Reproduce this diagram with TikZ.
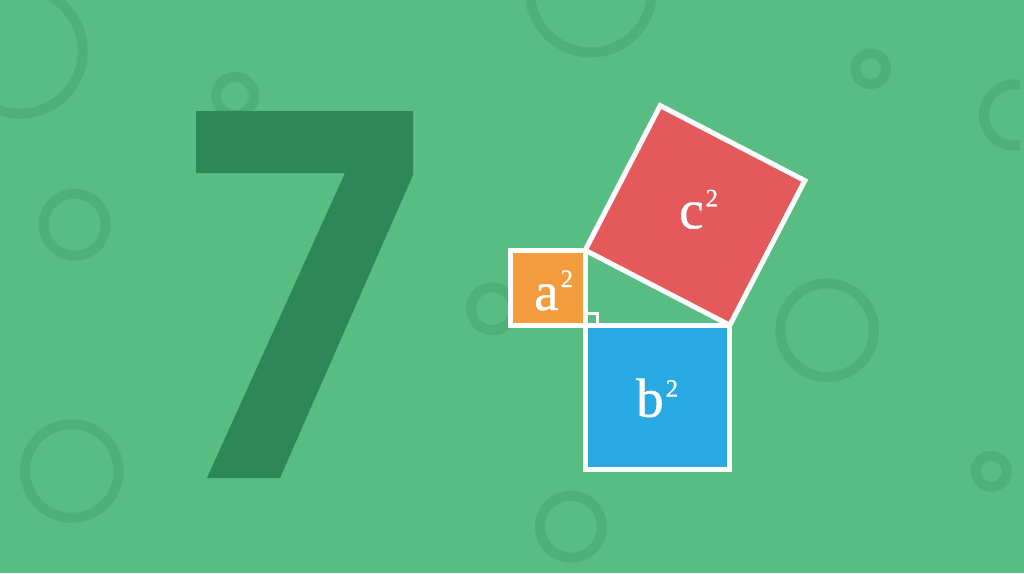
\documentclass[tikz,border=0pt]{standalone}
\usepackage{fontspec}
\setmainfont{Liberation Serif}
\newfontfamily\lblfont[FakeBold=0.8]{Liberation Serif}
\definecolor{bgc}{HTML}{57BD83}
\definecolor{ringc}{HTML}{4DB078}
\definecolor{sevenc}{HTML}{2D8756}
\definecolor{redc}{HTML}{E45A5A}
\definecolor{orangec}{HTML}{F39C3D}
\definecolor{bluec}{HTML}{28A9E1}
\newcommand\supnum[2]{\raisebox{#1}{\fontsize{25}{25}\selectfont #2}}
\begin{document}
\begin{tikzpicture}[x=1pt,y=-1pt,
  ring/.style={draw=ringc,line width=10pt},
  sq/.style={draw=white,line width=5pt,line join=miter},
  lbl/.style={text=white,inner sep=0pt,anchor=base west,font=\lblfont\fontsize{55}{60}\selectfont}]
\fill[bgc] (0,0) rectangle (1024,573);
\useasboundingbox (0,0) rectangle (1024,573);
\begin{scope}
\clip (0,0) rectangle (1024,573);
\draw[ring] (20,51) circle (62.7);
\draw[ring] (235,96) circle (19);
\draw[ring] (74.7,224.7) circle (31);
\draw[ring] (590.8,-8.5) circle (61);
\draw[ring] (870.7,68.7) circle (15.3);
\draw[ring] (71.7,471) circle (46.8);
\draw[ring] (492.5,308.8) circle (21.5);
\draw[ring] (827.2,330.2) circle (46.8);
\draw[ring] (571,526.7) circle (31);
\draw[ring] (991.2,471.3) circle (15.5);
\end{scope}
\begin{scope}
\clip (0,0) rectangle (1020,573);
\draw[ring] (1014.7,115) circle (30.7);
\end{scope}
% the seven
\fill[sevenc] (196,111) -- (413,111) -- (413,175) -- (280,478) -- (207,478) -- (345,173) -- (196,173) -- cycle;
% triangle vertices
\coordinate (C) at (585.2,325.2);
\coordinate (A) at (585.2,250.2);
\coordinate (B) at (729.8,325.2);
\coordinate (Bp) at (804.8,180.6);
\coordinate (Ap) at (660.2,105.6);
% squares
\filldraw[sq,fill=orangec] (510.2,250.2) rectangle (C);
\filldraw[sq,fill=bluec] (C) rectangle (729.8,469.2);
\filldraw[sq,fill=redc] (A) -- (B) -- (Bp) -- (Ap) -- cycle;
% right angle mark
\draw[white,line width=2.5pt] (587,313.5) rectangle (597.5,325.2);
% labels
\node[lbl] (la) at (534,310) {a\hspace{2pt}\supnum{23pt}{2}};
\node[lbl] (lb) at (636,416.7) {b\hspace{2pt}\supnum{20pt}{2}};
\node[lbl] (lc) at (679,228.3) {c\hspace{2pt}\supnum{22pt}{2}};
\end{tikzpicture}
\end{document}
